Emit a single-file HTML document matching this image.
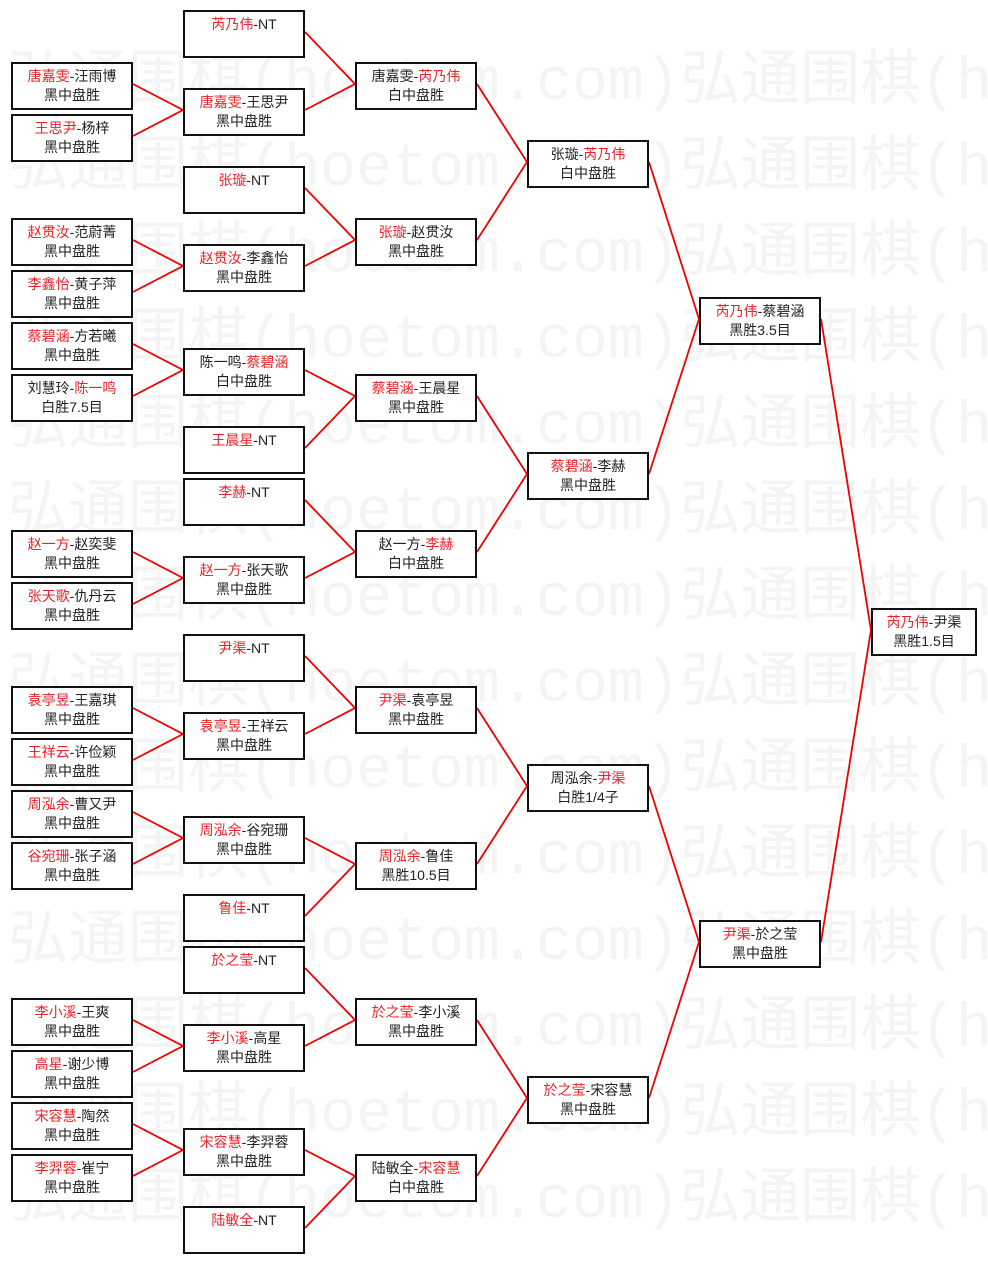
<!DOCTYPE html>
<html><head><meta charset="utf-8"><style>
body{margin:0;background:#fff;}
#c{position:relative;width:988px;height:1261px;overflow:hidden;background:#fff;font-family:"Liberation Sans","Noto Sans CJK SC",sans-serif;}
.wm{position:absolute;left:8px;font-size:60px;color:#f4f4f4;white-space:nowrap;font-family:"Liberation Mono","Noto Sans CJK SC",monospace;}
.b{position:absolute;width:118px;height:41px;border:2px solid #111;background:#fff;text-align:center;font-size:14px;line-height:19px;padding-top:3px;box-sizing:content-box;color:#222;white-space:nowrap;}
.b i{font-style:normal;color:#e8232a;}
.c1{left:11px}.c2{left:183px}.c3{left:355px}.c4{left:527px}.c5{left:699px}.c6{left:871px;width:102px}
svg{position:absolute;left:0;top:0}
</style></head><body><div id="c">
<div class="wm" style="top:30px">弘通围棋(hoetom.com)弘通围棋(hoetom.com)</div>
<div class="wm" style="top:116px">弘通围棋(hoetom.com)弘通围棋(hoetom.com)</div>
<div class="wm" style="top:202px">弘通围棋(hoetom.com)弘通围棋(hoetom.com)</div>
<div class="wm" style="top:288px">弘通围棋(hoetom.com)弘通围棋(hoetom.com)</div>
<div class="wm" style="top:374px">弘通围棋(hoetom.com)弘通围棋(hoetom.com)</div>
<div class="wm" style="top:460px">弘通围棋(hoetom.com)弘通围棋(hoetom.com)</div>
<div class="wm" style="top:546px">弘通围棋(hoetom.com)弘通围棋(hoetom.com)</div>
<div class="wm" style="top:632px">弘通围棋(hoetom.com)弘通围棋(hoetom.com)</div>
<div class="wm" style="top:718px">弘通围棋(hoetom.com)弘通围棋(hoetom.com)</div>
<div class="wm" style="top:804px">弘通围棋(hoetom.com)弘通围棋(hoetom.com)</div>
<div class="wm" style="top:890px">弘通围棋(hoetom.com)弘通围棋(hoetom.com)</div>
<div class="wm" style="top:976px">弘通围棋(hoetom.com)弘通围棋(hoetom.com)</div>
<div class="wm" style="top:1062px">弘通围棋(hoetom.com)弘通围棋(hoetom.com)</div>
<div class="wm" style="top:1148px">弘通围棋(hoetom.com)弘通围棋(hoetom.com)</div>
<svg width="988" height="1261" stroke="#e00" stroke-width="1.8" fill="none">
<path d="M133 84L183 110L133 136"/>
<path d="M133 240L183 266L133 292"/>
<path d="M133 344L183 370L133 396"/>
<path d="M133 552L183 578L133 604"/>
<path d="M133 708L183 734L133 760"/>
<path d="M133 812L183 838L133 864"/>
<path d="M133 1020L183 1046L133 1072"/>
<path d="M133 1124L183 1150L133 1176"/>
<path d="M305 32L355 84L305 110"/>
<path d="M305 188L355 240L305 266"/>
<path d="M305 370L355 396L305 448"/>
<path d="M305 500L355 552L305 578"/>
<path d="M305 656L355 708L305 734"/>
<path d="M305 838L355 864L305 916"/>
<path d="M305 968L355 1020L305 1046"/>
<path d="M305 1150L355 1176L305 1228"/>
<path d="M477 84L527 162L477 240"/>
<path d="M477 396L527 474L477 552"/>
<path d="M477 708L527 786L477 864"/>
<path d="M477 1020L527 1098L477 1176"/>
<path d="M649 162L699 319L649 474"/>
<path d="M649 786L699 942L649 1098"/>
<path d="M821 319L871 630L821 942"/>
</svg>
<div class="b c1" style="top:62px"><i>唐嘉雯</i>-汪雨博<br>黑中盘胜</div>
<div class="b c1" style="top:114px"><i>王思尹</i>-杨梓<br>黑中盘胜</div>
<div class="b c1" style="top:218px"><i>赵贯汝</i>-范蔚菁<br>黑中盘胜</div>
<div class="b c1" style="top:270px"><i>李鑫怡</i>-黄子萍<br>黑中盘胜</div>
<div class="b c1" style="top:322px"><i>蔡碧涵</i>-方若曦<br>黑中盘胜</div>
<div class="b c1" style="top:374px">刘慧玲-<i>陈一鸣</i><br>白胜7.5目</div>
<div class="b c1" style="top:530px"><i>赵一方</i>-赵奕斐<br>黑中盘胜</div>
<div class="b c1" style="top:582px"><i>张天歌</i>-仇丹云<br>黑中盘胜</div>
<div class="b c1" style="top:686px"><i>袁亭昱</i>-王嘉琪<br>黑中盘胜</div>
<div class="b c1" style="top:738px"><i>王祥云</i>-许俭颖<br>黑中盘胜</div>
<div class="b c1" style="top:790px"><i>周泓余</i>-曹又尹<br>黑中盘胜</div>
<div class="b c1" style="top:842px"><i>谷宛珊</i>-张子涵<br>黑中盘胜</div>
<div class="b c1" style="top:998px"><i>李小溪</i>-王爽<br>黑中盘胜</div>
<div class="b c1" style="top:1050px"><i>高星</i>-谢少博<br>黑中盘胜</div>
<div class="b c1" style="top:1102px"><i>宋容慧</i>-陶然<br>黑中盘胜</div>
<div class="b c1" style="top:1154px"><i>李羿蓉</i>-崔宁<br>黑中盘胜</div>
<div class="b c2" style="top:10px"><i>芮乃伟</i>-NT</div>
<div class="b c2" style="top:88px"><i>唐嘉雯</i>-王思尹<br>黑中盘胜</div>
<div class="b c2" style="top:166px"><i>张璇</i>-NT</div>
<div class="b c2" style="top:244px"><i>赵贯汝</i>-李鑫怡<br>黑中盘胜</div>
<div class="b c2" style="top:348px">陈一鸣-<i>蔡碧涵</i><br>白中盘胜</div>
<div class="b c2" style="top:426px"><i>王晨星</i>-NT</div>
<div class="b c2" style="top:478px"><i>李赫</i>-NT</div>
<div class="b c2" style="top:556px"><i>赵一方</i>-张天歌<br>黑中盘胜</div>
<div class="b c2" style="top:634px"><i>尹渠</i>-NT</div>
<div class="b c2" style="top:712px"><i>袁亭昱</i>-王祥云<br>黑中盘胜</div>
<div class="b c2" style="top:816px"><i>周泓余</i>-谷宛珊<br>黑中盘胜</div>
<div class="b c2" style="top:894px"><i>鲁佳</i>-NT</div>
<div class="b c2" style="top:946px"><i>於之莹</i>-NT</div>
<div class="b c2" style="top:1024px"><i>李小溪</i>-高星<br>黑中盘胜</div>
<div class="b c2" style="top:1128px"><i>宋容慧</i>-李羿蓉<br>黑中盘胜</div>
<div class="b c2" style="top:1206px"><i>陆敏全</i>-NT</div>
<div class="b c3" style="top:62px">唐嘉雯-<i>芮乃伟</i><br>白中盘胜</div>
<div class="b c3" style="top:218px"><i>张璇</i>-赵贯汝<br>黑中盘胜</div>
<div class="b c3" style="top:374px"><i>蔡碧涵</i>-王晨星<br>黑中盘胜</div>
<div class="b c3" style="top:530px">赵一方-<i>李赫</i><br>白中盘胜</div>
<div class="b c3" style="top:686px"><i>尹渠</i>-袁亭昱<br>黑中盘胜</div>
<div class="b c3" style="top:842px"><i>周泓余</i>-鲁佳<br>黑胜10.5目</div>
<div class="b c3" style="top:998px"><i>於之莹</i>-李小溪<br>黑中盘胜</div>
<div class="b c3" style="top:1154px">陆敏全-<i>宋容慧</i><br>白中盘胜</div>
<div class="b c4" style="top:140px">张璇-<i>芮乃伟</i><br>白中盘胜</div>
<div class="b c4" style="top:452px"><i>蔡碧涵</i>-李赫<br>黑中盘胜</div>
<div class="b c4" style="top:764px">周泓余-<i>尹渠</i><br>白胜1/4子</div>
<div class="b c4" style="top:1076px"><i>於之莹</i>-宋容慧<br>黑中盘胜</div>
<div class="b c5" style="top:297px"><i>芮乃伟</i>-蔡碧涵<br>黑胜3.5目</div>
<div class="b c5" style="top:920px"><i>尹渠</i>-於之莹<br>黑中盘胜</div>
<div class="b c6" style="top:608px"><i>芮乃伟</i>-尹渠<br>黑胜1.5目</div>
</div></body></html>
